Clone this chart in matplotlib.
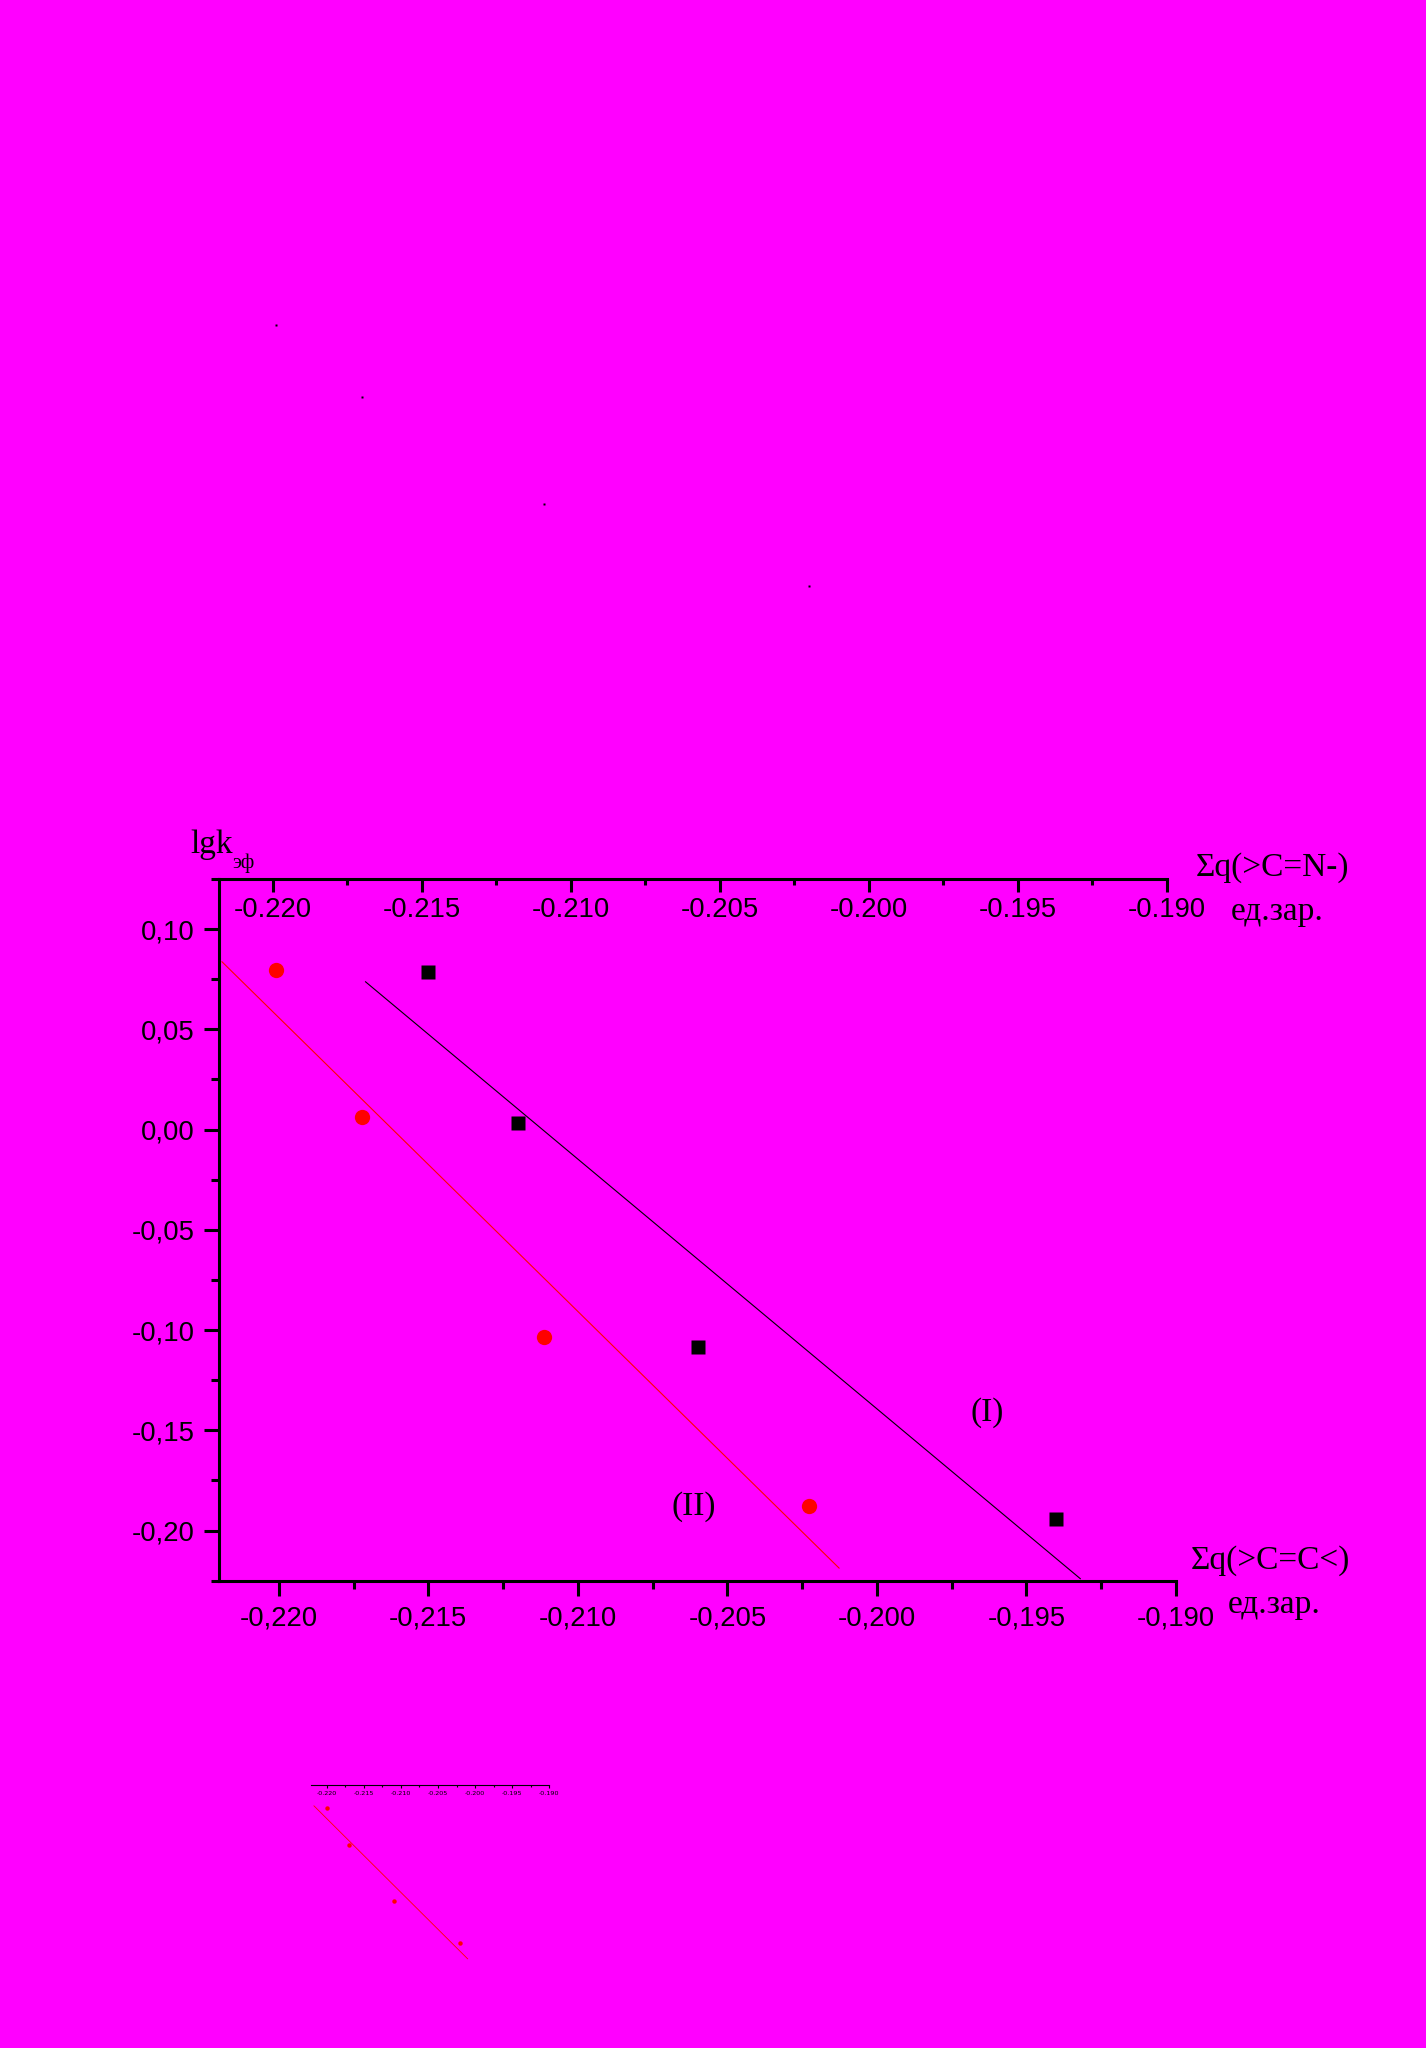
import numpy as np
import matplotlib
matplotlib.use('Agg')
import matplotlib.pyplot as plt
from matplotlib.ticker import FixedLocator, FixedFormatter, MultipleLocator

# data
black_x = [-0.2150, -0.2120, -0.2060, -0.1940]   # curve (I), bottom axis
black_y = [0.0784, 0.0034, -0.1083, -0.1943]
red_x = [-0.2199, -0.2170, -0.2109, -0.2020]     # curve (II), top axis
red_y = [0.0796, 0.0061, -0.1036, -0.1878]
black_fit_x = [-0.2171, -0.1932]
red_fit_x = [-0.2217, -0.2010]

y_ticks = [0.10, 0.05, 0.00, -0.05, -0.10, -0.15, -0.20]
y_labels = ['0,10', '0,05', '0,00', '-0,05', '-0,10', '-0,15', '-0,20']
x_ticks = [-0.220, -0.215, -0.210, -0.205, -0.200, -0.195, -0.190]
x_bottom_labels = ['-0,220', '-0,215', '-0,210', '-0,205', '-0,200', '-0,195', '-0,190']
x_top_labels = ['-0.220', '-0.215', '-0.210', '-0.205', '-0.200', '-0.195', '-0.190']

W, H = 1426, 2048
BG = '#ff00ff'
SANS = ['Liberation Sans', 'DejaVu Sans']
SERIF = ['Liberation Serif', 'DejaVu Serif']


def box(x0, y0, x1, y1):
    # pixel box (top-left origin) -> figure fraction rect
    return [x0 / W, 1 - y1 / H, (x1 - x0) / W, (y1 - y0) / H]


fig = plt.figure(figsize=(W / 100, H / 100), dpi=100)
fig.patch.set_facecolor(BG)

ylim = (-0.225, 0.125)

# bottom axis + y axis
ax = fig.add_axes(box(219, 879, 1176, 1580.7))
ax.set_facecolor('none')
ax.set_xlim(-0.2220, -0.190)
ax.set_ylim(*ylim)
for s in ['top', 'right']:
    ax.spines[s].set_visible(False)
for s in ['left', 'bottom']:
    ax.spines[s].set_linewidth(2.2)
ax.xaxis.set_major_locator(FixedLocator(x_ticks))
ax.xaxis.set_major_formatter(FixedFormatter(x_bottom_labels))
ax.xaxis.set_minor_locator(MultipleLocator(0.0025))
ax.yaxis.set_major_locator(FixedLocator(y_ticks))
ax.yaxis.set_major_formatter(FixedFormatter(y_labels))
ax.yaxis.set_minor_locator(MultipleLocator(0.025))
ax.tick_params(which='major', direction='out', length=10.5, width=2.2, pad=7, labelsize=19.8)
ax.tick_params(which='minor', direction='out', length=6, width=2.2)
for lab in ax.get_xticklabels() + ax.get_yticklabels():
    lab.set_family(SANS)

# top axis
axt = fig.add_axes(box(219, 879, 1167, 1580.7))
axt.set_facecolor('none')
axt.set_xlim(-0.2218, -0.190)
axt.set_ylim(*ylim)
for s in ['left', 'right', 'bottom']:
    axt.spines[s].set_visible(False)
axt.spines['top'].set_linewidth(2.2)
axt.yaxis.set_visible(False)
axt.xaxis.tick_top()
axt.xaxis.set_major_locator(FixedLocator(x_ticks))
axt.xaxis.set_major_formatter(FixedFormatter(x_top_labels))
axt.xaxis.set_minor_locator(MultipleLocator(0.0025))
axt.tick_params(which='major', direction='in', length=9, width=2.2, pad=-31.5, labelsize=19.8)
axt.tick_params(which='minor', direction='in', length=4.5, width=2.2)
for lab in axt.get_xticklabels():
    lab.set_family(SANS)

# fits
bk = np.polyfit(black_x, black_y, 1)
rd = np.polyfit(red_x, red_y, 1)
ax.plot(black_fit_x, np.polyval(bk, black_fit_x), color='black', lw=0.8)
axt.plot(red_fit_x, np.polyval(rd, red_fit_x), color='red', lw=0.8)
ax.plot(black_x, black_y, 's', color='black', ms=10, mec='none')
axt.plot(red_x, red_y, 'o', color='red', ms=11, mec='none')

ax.text(-0.19631, -0.1413, '(I)', family=SERIF, fontsize=24, ha='center', va='center')
ax.text(-0.20613, -0.1882, '(II)', family=SERIF, fontsize=24, ha='center', va='center')

# axis titles
fig.text(190 / W, 1 - 853 / H, 'lgk', family=SERIF, fontsize=24, va='baseline')
fig.text(232 / W, 1 - 868 / H, 'эф', family=SERIF, fontsize=15, va='baseline')
fig.text(1195.5 / W, 1 - 875.7 / H, 'Σq(>C=N-)', family=SERIF, fontsize=24, va='baseline')
fig.text(1231 / W, 1 - 920 / H, 'ед.зар.', family=SERIF, fontsize=24, va='baseline')
fig.text(1191 / W, 1 - 1568.3 / H, 'Σq(>C=C<)', family=SERIF, fontsize=24, va='baseline')
fig.text(1228 / W, 1 - 1613.3 / H, 'ед.зар.', family=SERIF, fontsize=24, va='baseline')

# small thumbnail copy of curve (II)
axi = fig.add_axes(box(311, 1785, 549.3, 1962))
axi.set_facecolor('none')
axi.set_xlim(-0.2221, -0.190)
axi.set_ylim(*ylim)
for s in ['left', 'right', 'bottom']:
    axi.spines[s].set_visible(False)
axi.spines['top'].set_linewidth(0.8)
axi.yaxis.set_visible(False)
axi.xaxis.tick_top()
axi.xaxis.set_major_locator(FixedLocator(x_ticks))
axi.xaxis.set_major_formatter(FixedFormatter(x_top_labels))
axi.xaxis.set_minor_locator(MultipleLocator(0.0025))
axi.tick_params(which='major', direction='in', length=1.8, width=0.8, pad=-8, labelsize=4.6)
axi.tick_params(which='minor', direction='in', length=1.2, width=0.8)
axi.plot(red_fit_x, np.polyval(rd, red_fit_x), color='red', lw=0.6)
axi.plot(red_x, red_y, 'o', color='red', ms=3.2, mec='none')

# faint dots near the top of the page
axd = fig.add_axes(box(219, 280.9, 1167, 622.5))
axd.set_xlim(-0.2218, -0.190)
axd.set_ylim(*ylim)
axd.axis('off')
axd.plot(red_x, red_y, 's', color='black', ms=1.5, mec='none')

fig.savefig('out.png', dpi=100, facecolor=BG)
